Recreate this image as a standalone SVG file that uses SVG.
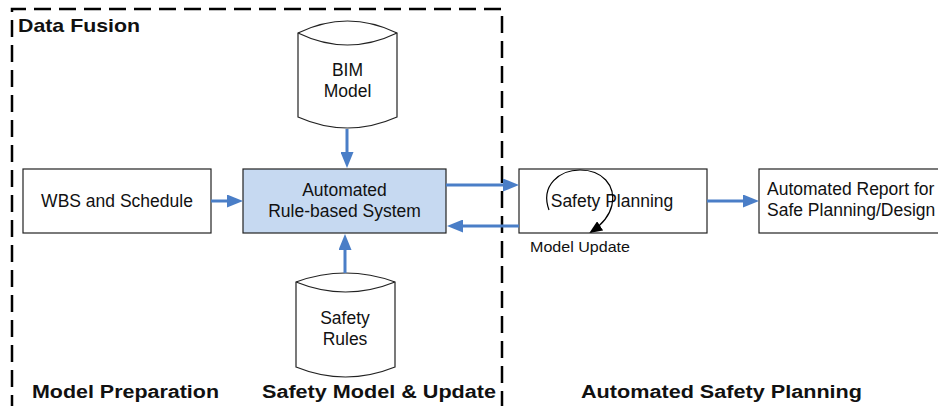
<svg xmlns="http://www.w3.org/2000/svg" width="938" height="406" viewBox="0 0 938 406">
<style>
  text { font-family: "Liberation Sans", Arial, sans-serif; fill: #111; }
  .lbl { font-size: 17.5px; }
  .mid { text-anchor: middle; }
  .bold { font-weight: bold; }
  .box { fill: #ffffff; stroke: #222; stroke-width: 1.2; }
  .blue { fill: #C6D9F1; }
  .cyl { fill: #ffffff; stroke: #222; stroke-width: 1.2; }
  .flow { stroke: #4A7EC7; stroke-width: 3; fill: none; }
</style>
<defs>
  <marker id="ah" markerUnits="userSpaceOnUse" markerWidth="16" markerHeight="13" refX="10" refY="6.5" orient="auto">
    <path d="M0,0 L16,6.5 L0,13 z" fill="#4A7EC7"/>
  </marker>
  <marker id="bh" markerUnits="userSpaceOnUse" markerWidth="13" markerHeight="11" refX="11" refY="5.5" orient="auto">
    <path d="M0,0 L13,5.5 L0,11 z" fill="#000"/>
  </marker>
</defs>
<rect width="938" height="406" fill="#ffffff"/>

<g id="data-fusion">
  <path d="M12,412 V9 H502 V412" fill="none" stroke="#000" stroke-width="2.5" stroke-dasharray="17 8"/>
  <text x="18" y="32" class="bold" font-size="18.5" textLength="122" lengthAdjust="spacingAndGlyphs">Data Fusion</text>
</g>

<g id="bim-model">
  <path class="cyl" d="M298,33 Q347.5,9 397,33 L397,117 Q347.5,139 298,117 Z"/>
  <path class="cyl" fill="none" d="M298,33 Q347.5,57 397,33"/>
  <text x="347.5" y="76" class="lbl mid">BIM</text>
  <text x="347.5" y="97" class="lbl mid">Model</text>
</g>

<g id="safety-rules">
  <path class="cyl" d="M296,282 Q345.5,264 395,282 L395,367 Q345.5,387 296,367 Z"/>
  <path class="cyl" fill="none" d="M296,282 Q345.5,302 395,282"/>
  <text x="345" y="324" class="lbl mid">Safety</text>
  <text x="345" y="345" class="lbl mid">Rules</text>
</g>

<g id="wbs">
  <rect class="box" x="23" y="169" width="188" height="64"/>
  <text x="117" y="207" class="lbl mid">WBS and Schedule</text>
</g>

<g id="rule-system">
  <rect class="box blue" x="243" y="169" width="203" height="64"/>
  <text x="344.5" y="196" class="lbl mid">Automated</text>
  <text x="344.5" y="217" class="lbl mid">Rule-based System</text>
</g>

<g id="safety-planning">
  <rect class="box" x="519" y="169" width="188" height="64"/>
  <text x="612" y="207" class="lbl mid">Safety Planning</text>
  <path d="M549,210 C540,185 560,170 580,170 C602,170 616,185 612,205 C609,218 600,226 591,232" fill="none" stroke="#000" stroke-width="1.2" marker-end="url(#bh)"/>
  <text x="530" y="252" font-size="14.5" textLength="100" lengthAdjust="spacingAndGlyphs">Model Update</text>
</g>

<g id="report">
  <rect class="box" x="759" y="169" width="200" height="64"/>
  <text x="767" y="195" class="lbl">Automated Report for</text>
  <text x="767" y="216" class="lbl">Safe Planning/Design</text>
</g>

<g id="connectors">
  <line class="flow" x1="347" y1="129" x2="347" y2="162" marker-end="url(#ah)"/>
  <line class="flow" x1="345" y1="273" x2="345" y2="240" marker-end="url(#ah)"/>
  <line class="flow" x1="211" y1="201" x2="237" y2="201" marker-end="url(#ah)"/>
  <line class="flow" x1="446" y1="185" x2="513" y2="185" marker-end="url(#ah)"/>
  <line class="flow" x1="519" y1="226" x2="453" y2="226" marker-end="url(#ah)"/>
  <line class="flow" x1="707" y1="201" x2="753" y2="201" marker-end="url(#ah)"/>
</g>

<g id="phase-labels">
  <text x="32" y="398" class="bold" font-size="18" textLength="187" lengthAdjust="spacingAndGlyphs">Model Preparation</text>
  <text x="262" y="398" class="bold" font-size="18" textLength="234" lengthAdjust="spacingAndGlyphs">Safety Model &amp; Update</text>
  <text x="581" y="398" class="bold" font-size="18" textLength="281" lengthAdjust="spacingAndGlyphs">Automated Safety Planning</text>
</g>
</svg>
